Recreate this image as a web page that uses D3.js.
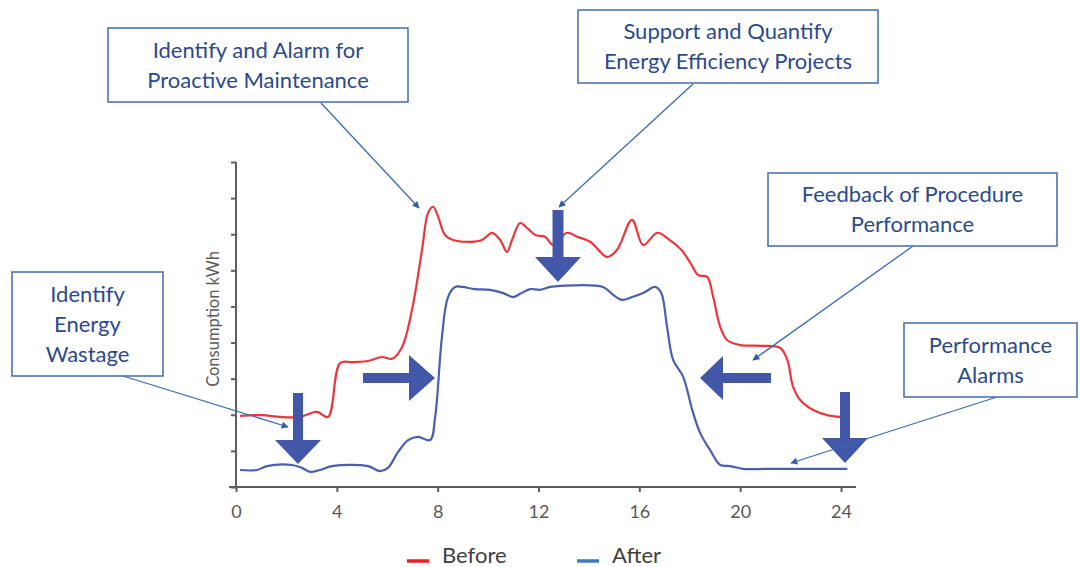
<!DOCTYPE html>
<html>
<head>
<meta charset="utf-8">
<script src="https://cdn.jsdelivr.net/npm/d3@7"></script>
<style>
  html, body { margin: 0; padding: 0; background: #fff; }
  svg { display: block; }
  text { font-family: Lato, "Open Sans", sans-serif; }
</style>
</head>
<body>
<svg id="chart" width="1081" height="567"></svg>
<script>
// ---- Data (hour of day, consumption in axis units) ----
const beforeHours = [0.16,1.03,1.75,2.54,3.21,3.65,4.13,4.6,5.24,5.79,6.19,6.59,6.98,7.38,7.62,7.82,8.02,8.29,8.61,9.29,9.76,10.16,10.48,10.75,10.95,11.27,11.55,11.87,12.26,12.58,13.13,13.53,14.05,14.72,15.12,15.71,16.15,16.71,17.14,17.66,18.02,18.33,18.69,18.93,19.21,19.48,20.0,20.79,21.59,21.87,22.1,22.38,22.9,23.45,23.97];
const beforeValues = [1.97,1.99,1.94,1.94,2.08,1.94,3.43,3.46,3.49,3.60,3.55,3.88,4.90,6.57,7.59,7.76,7.48,6.98,6.84,6.79,6.84,7.04,6.84,6.51,6.84,7.31,7.17,6.98,6.93,6.70,7.04,6.93,6.79,6.37,6.57,7.40,6.70,7.04,6.87,6.57,6.21,5.87,5.82,5.26,4.43,4.07,3.93,3.91,3.85,3.52,2.77,2.41,2.13,1.99,1.94];

const afterHours = [0.16,0.83,1.23,2.22,2.62,2.94,3.33,3.81,5.24,5.71,6.03,6.43,6.83,7.22,7.70,7.90,8.17,8.41,8.69,8.97,9.48,10.08,10.6,10.99,11.27,11.67,12.06,12.46,12.86,14.56,14.96,15.32,15.71,16.15,16.63,16.87,17.10,17.34,17.74,18.10,18.41,18.81,19.21,19.60,20.12,21.0,22.5,24.25];
const afterValues = [0.47,0.47,0.58,0.61,0.53,0.42,0.47,0.58,0.58,0.44,0.53,0.97,1.30,1.39,1.30,1.94,4.16,5.26,5.54,5.54,5.48,5.46,5.37,5.26,5.35,5.48,5.46,5.54,5.57,5.54,5.32,5.18,5.26,5.37,5.54,5.37,4.43,3.52,3.05,2.13,1.50,1.02,0.61,0.58,0.50,0.50,0.50,0.50];

const xTicks = [0,4,8,12,16,20,24];
const yTicks = [0,1,2,3,4,5,6,7,8,9];
const seriesNames = ["Before","After"];
const seriesColors = ["#e8383d","#4a5fae"];
const legendColors = ["#ee1c25","#3f79c2"];

const yLabel = "Consumption kWh";

const callouts = [
  {lines:["Identify and Alarm for","Proactive Maintenance"], box:[108,28,300,74], from:[321,103], to:[419,208]},
  {lines:["Support and Quantify","Energy Efficiency Projects"], box:[578,10,300,73], from:[693,84], to:[559,207]},
  {lines:["Identify","Energy","Wastage"], box:[12,272,151,104], from:[123,376], to:[288,427]},
  {lines:["Feedback of Procedure","Performance"], box:[768,173,289,73], from:[913,246], to:[753,360]},
  {lines:["Performance","Alarms"], box:[904,323,173,74], from:[997,397], to:[791,463]}
];

// ---- Layout ----
const svg = d3.select("#chart");
const x = d3.scaleLinear().domain([0,24]).range([236,841]);
const y = d3.scaleLinear().domain([0,9]).range([487,162]);

const axisColor = "#5f5f5f";

// x axis
const gx = svg.append("g").attr("transform", `translate(0,${y(0)})`)
  .call(d3.axisBottom(x).tickValues(xTicks).tickSize(5).tickPadding(13).tickSizeOuter(0));
gx.select(".domain").remove();
gx.append("line").attr("x1", 229).attr("x2", 856).attr("y1",0).attr("y2",0)
  .attr("stroke", axisColor).attr("stroke-width", 2);
gx.selectAll(".tick line").attr("stroke", axisColor).attr("stroke-width", 2);
gx.selectAll(".tick text").attr("fill", "#595959").style("font-size","18px").style("font-family","Lato, sans-serif");

// y axis
const gy = svg.append("g").attr("transform", `translate(${x(0)},0)`)
  .call(d3.axisLeft(y).tickValues(yTicks).tickSize(5).tickFormat("").tickSizeOuter(0));
gy.select(".domain").remove();
gy.append("line").attr("x1",0).attr("x2",0).attr("y1", y(0)+1).attr("y2", y(9))
  .attr("stroke", axisColor).attr("stroke-width", 2);
gy.selectAll(".tick line").attr("stroke", axisColor).attr("stroke-width", 2);

svg.append("text")
  .attr("transform", `translate(219,319) rotate(-90)`)
  .attr("text-anchor","middle")
  .attr("fill","#595959")
  .style("font-size","16.5px")
  .text(yLabel);

// lines
const line = d3.line().x(d=>x(d[0])).y(d=>y(d[1])).curve(d3.curveCatmullRom.alpha(0.5));
const series = [
  d3.zip(beforeHours, beforeValues),
  d3.zip(afterHours, afterValues)
];
svg.selectAll("path.series").data(series).join("path")
  .attr("class","series")
  .attr("d", line)
  .attr("fill","none")
  .attr("stroke",(d,i)=>seriesColors[i])
  .attr("stroke-width",2.2)
  .attr("stroke-linejoin","round");

// block arrows
const arrowFill = "#4257a7";
function downArrow(cx, top, headTop, tip, shaftW, headW){
  return `M${cx-shaftW/2},${top} L${cx+shaftW/2},${top} L${cx+shaftW/2},${headTop} L${cx+headW/2},${headTop} L${cx},${tip} L${cx-headW/2},${headTop} L${cx-shaftW/2},${headTop} Z`;
}
function hArrow(tail, headBase, tip, cy, shaftH, headH){
  return `M${tail},${cy-shaftH/2} L${headBase},${cy-shaftH/2} L${headBase},${cy-headH/2} L${tip},${cy} L${headBase},${cy+headH/2} L${headBase},${cy+shaftH/2} L${tail},${cy+shaftH/2} Z`;
}
const blockArrows = [
  downArrow(298, 393, 440, 464, 10, 46),
  hArrow(363, 409, 435, 378, 10, 46),
  downArrow(558, 210, 257, 282, 11, 46),
  hArrow(771, 723, 700, 378, 10, 44),
  downArrow(845, 392, 438, 463, 10, 46)
];
svg.selectAll("path.block").data(blockArrows).join("path")
  .attr("class","block").attr("d", d=>d).attr("fill", arrowFill);

// callouts
const defs = svg.append("defs");
defs.append("marker").attr("id","ah").attr("viewBox","0 0 10 10")
  .attr("refX",9).attr("refY",5).attr("markerWidth",9).attr("markerHeight",7)
  .attr("markerUnits","userSpaceOnUse").attr("orient","auto")
  .append("path").attr("d","M0,0 L10,5 L0,10 Z").attr("fill","#2f5da8");

const cg = svg.selectAll("g.callout").data(callouts).join("g").attr("class","callout");
cg.append("line")
  .attr("x1",d=>d.from[0]).attr("y1",d=>d.from[1])
  .attr("x2",d=>d.to[0]).attr("y2",d=>d.to[1])
  .attr("stroke","#3b6cb3").attr("stroke-width",1.3)
  .attr("marker-end","url(#ah)");
cg.append("rect")
  .attr("x",d=>d.box[0]).attr("y",d=>d.box[1])
  .attr("width",d=>d.box[2]).attr("height",d=>d.box[3])
  .attr("fill","#fff").attr("stroke","#4d74ad").attr("stroke-width",1.6);
cg.each(function(d){
  const g = d3.select(this);
  const n = d.lines.length;
  const lh = 30;
  const cx = d.box[0] + d.box[2]/2;
  const cy = d.box[1] + d.box[3]/2;
  d.lines.forEach((t,i)=>{
    g.append("text")
      .attr("x", cx)
      .attr("y", cy + (i - (n-1)/2)*lh)
      .attr("dy","0.35em")
      .attr("text-anchor","middle")
      .attr("fill","#2c4a8a")
      .style("font-size","22px")
      .text(t);
  });
});

// legend
const lg = svg.selectAll("g.legend").data(seriesNames).join("g").attr("class","legend")
  .attr("transform",(d,i)=> `translate(${i===0?407:577},0)`);
lg.append("line").attr("x1",0).attr("x2",22).attr("y1",561).attr("y2",561)
  .attr("stroke",(d,i)=>legendColors[i]).attr("stroke-width",3.5);
lg.append("text").attr("x",35).attr("y",563)
  .attr("fill","#404040").style("font-size","22px").text(d=>d);
</script>
</body>
</html>
